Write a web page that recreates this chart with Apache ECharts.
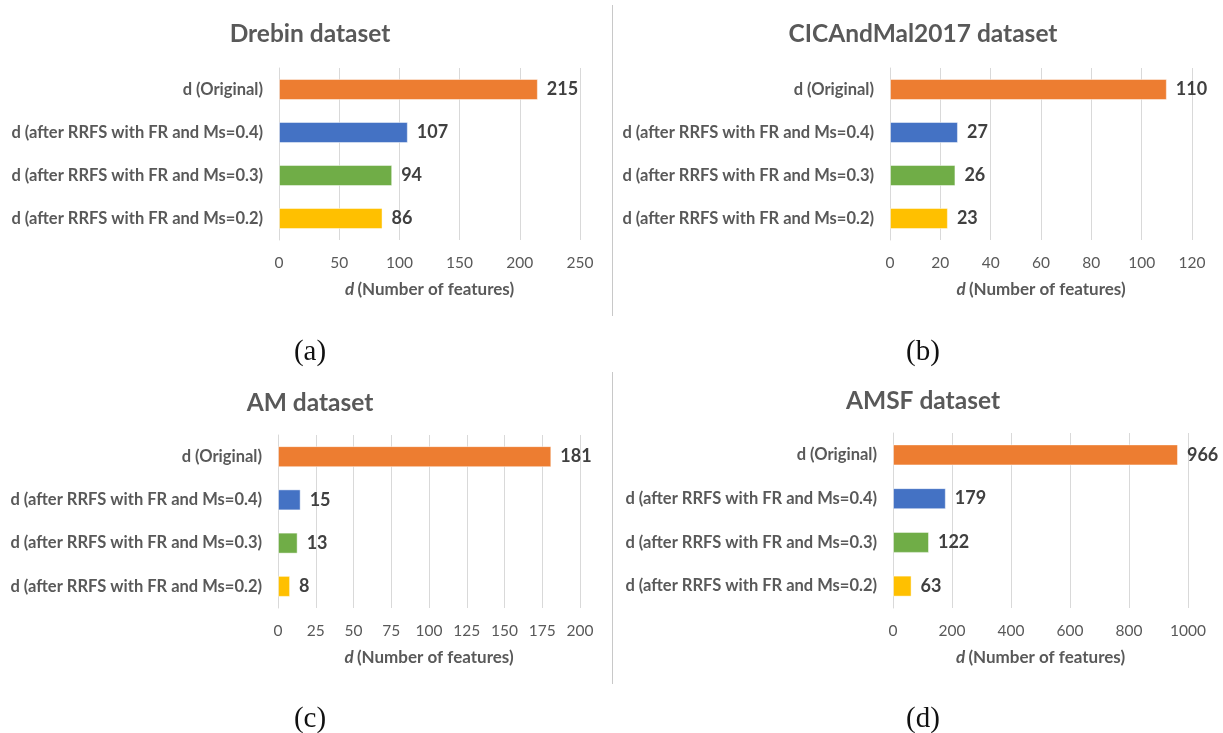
<!DOCTYPE html>
<html>
<head>
<meta charset="utf-8">
<script src="https://cdn.jsdelivr.net/npm/echarts@6/dist/echarts.min.js"></script>
<style>
html,body{margin:0;padding:0;background:#fff;}
#chart{width:1223px;height:733px;}
</style>
</head>
<body>
<div id="chart"></div>
<script>
const categories = ['d (Original)', 'd (after RRFS with FR and Ms=0.4)', 'd (after RRFS with FR and Ms=0.3)', 'd (after RRFS with FR and Ms=0.2)'];
const barColors = ['#ED7D31', '#4472C4', '#70AD47', '#FFC000'];
const panelTitles = ['Drebin dataset', 'CICAndMal2017 dataset', 'AM dataset', 'AMSF dataset'];
const captions = ['(a)', '(b)', '(c)', '(d)'];
const drebinValues = [215, 107, 94, 86];
const cicValues = [110, 27, 26, 23];
const amValues = [181, 15, 13, 8];
const amsfValues = [966, 179, 122, 63];
const axisMax = [250, 120, 200, 1000];
const axisInterval = [50, 20, 25, 200];
const allValues = [drebinValues, cicValues, amValues, amsfValues];

const FONT = 'Lato';
const grids = [
  {left: 279, width: 301, top: 68, height: 172},
  {left: 890, width: 302, top: 68, height: 172},
  {left: 278, width: 302, top: 435, height: 173},
  {left: 893, width: 295, top: 433, height: 175}
];
const titlePos = [
  {x: 305, y: 17}, {x: 918, y: 17}, {x: 305, y: 386}, {x: 918, y: 384}
];
const captionPos = [
  {x: 305, y: 333}, {x: 918, y: 333}, {x: 305, y: 700}, {x: 918, y: 700}
];

const option = {
  backgroundColor: '#fff',
  animation: false,
  title: [],
  grid: [],
  xAxis: [],
  yAxis: [],
  series: [],
  graphic: [
    {type: 'line', shape: {x1: 612.5, y1: 5, x2: 612.5, y2: 316}, style: {stroke: '#c8c8c8', lineWidth: 1}},
    {type: 'line', shape: {x1: 612.5, y1: 372, x2: 612.5, y2: 684}, style: {stroke: '#c8c8c8', lineWidth: 1}}
  ]
};

for (let i = 0; i < 4; i++) {
  option.title.push({
    text: panelTitles[i], left: titlePos[i].x, top: titlePos[i].y, textAlign: 'center',
    textStyle: {fontFamily: FONT, fontWeight: 'bold', fontSize: 24.5, color: '#595959'}
  });
  option.title.push({
    text: captions[i], left: captionPos[i].x, top: captionPos[i].y, textAlign: 'center',
    textStyle: {fontFamily: 'Liberation Serif', fontWeight: 'normal', fontSize: 29, color: '#111'}
  });
  option.grid.push(Object.assign({containLabel: false}, grids[i]));
  option.xAxis.push({
    type: 'value', gridIndex: i, min: 0, max: axisMax[i], interval: axisInterval[i],
    axisLine: {show: false}, axisTick: {show: false},
    splitLine: {show: true, lineStyle: {color: '#D9D9D9', width: 1}},
    axisLabel: {fontFamily: FONT, fontSize: 15.5, color: '#595959', margin: 15, formatter: v => String(v)},
    name: '{i|d} {n|(Number of features)}', nameLocation: 'middle', nameGap: 41,
    nameTextStyle: {
      rich: {
        i: {fontFamily: FONT, fontSize: 17, fontWeight: 'bold', fontStyle: 'italic', color: '#595959'},
        n: {fontFamily: FONT, fontSize: 17, fontWeight: 'bold', color: '#595959'}
      }
    }
  });
  option.yAxis.push({
    type: 'category', gridIndex: i, data: categories, inverse: true,
    axisLine: {show: true, lineStyle: {color: '#D9D9D9'}}, axisTick: {show: false},
    axisLabel: {fontFamily: FONT, fontSize: 16.5, fontWeight: 'bold', color: '#595959', margin: 16}
  });
  option.series.push({
    type: 'bar', xAxisIndex: i, yAxisIndex: i, barWidth: 21,
    data: allValues[i].map((v, k) => ({value: v, itemStyle: {color: barColors[k]}})),
    itemStyle: {borderColor: 'rgba(255,255,255,0.45)', borderWidth: 1},
    label: {show: true, position: 'right', distance: 9, fontFamily: FONT, fontSize: 18, fontWeight: 'bold', color: '#404040'}
  });
}

const chart = echarts.init(document.getElementById('chart'), null, {renderer: 'canvas'});
chart.setOption(option);
</script>
</body>
</html>
